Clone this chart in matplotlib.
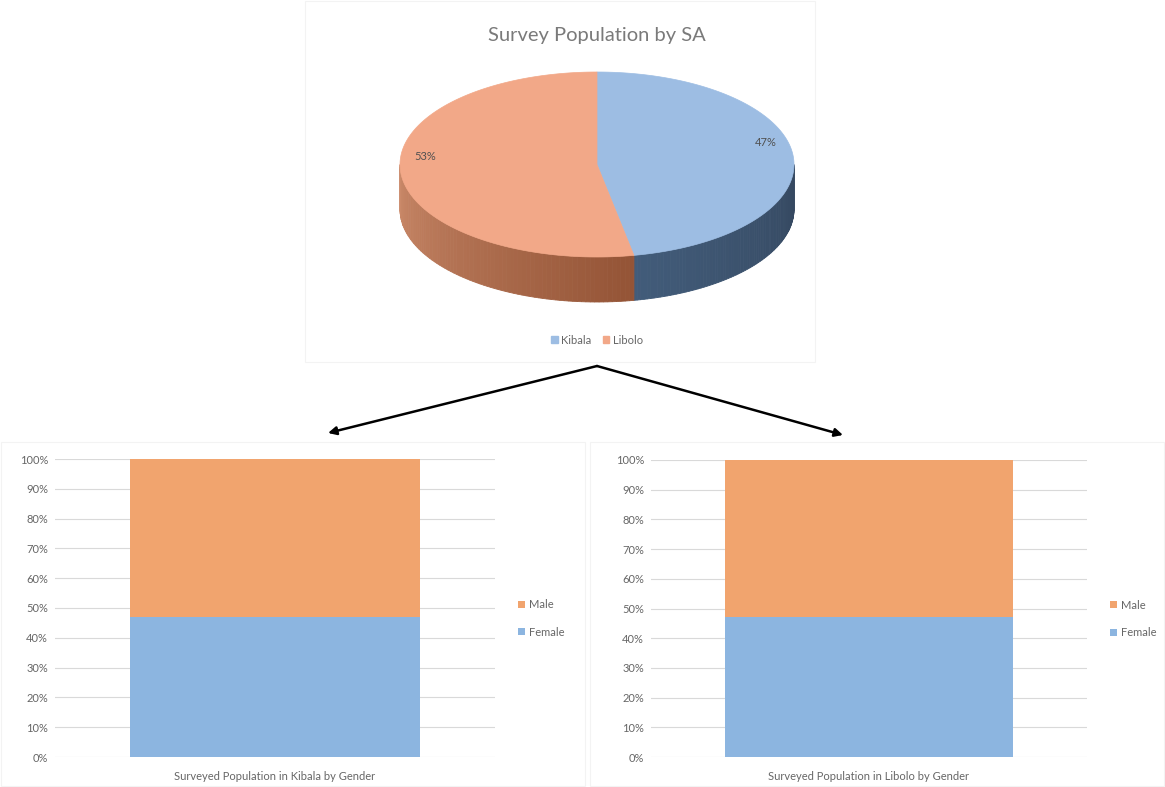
import numpy as np
import matplotlib
matplotlib.use('Agg')
import matplotlib.pyplot as plt
from matplotlib.patches import Polygon, Patch, Rectangle
from matplotlib.ticker import PercentFormatter
from matplotlib.colors import to_rgb

plt.rcParams['font.family'] = ['Lato', 'DejaVu Sans']

# data
regions = ['Kibala', 'Libolo']
region_share = [47, 53]
genders = ['Female', 'Male']
female_share = [0.47, 0.47]   # Kibala, Libolo
male_share = [0.53, 0.53]
bar_titles = ['Surveyed Population in Kibala by Gender',
              'Surveyed Population in Libolo by Gender']

top_colors = ['#9DBDE3', '#F2A888']
side_colors = [('#34475F', '#425C7A'), ('#945436', '#CB8A6A')]
bar_colors = {'Female': '#8CB5E0', 'Male': '#F1A46E'}
txt_gray = '#666666'

fig = plt.figure(figsize=(11.65, 7.87), dpi=100)

# background axes in pixel coordinates for the 3D pie, frames and arrows
bg = fig.add_axes([0, 0, 1, 1])
bg.set_xlim(0, 1165)
bg.set_ylim(787, 0)
bg.axis('off')

# panel frames (very faint)
for (x0, y0, w, h) in [(305, 1, 510, 361), (1, 442, 584, 344), (590, 442, 574, 344)]:
    bg.add_patch(Rectangle((x0, y0), w, h, fill=False, ec='#F3F3F3', lw=0.8))

bg.text(597, 35, 'Survey Population by SA', ha='center', va='center',
        fontsize=14.5, color='#7A7A7A')

# 3D pie
cx, cy, a, b, depth = 597, 164.5, 197, 92.5, 45


def pt(theta, dy=0):
    t = np.radians(theta)
    return cx + a * np.sin(t), cy - b * np.cos(t) + dy


fracs = np.array(region_share) / sum(region_share)
starts = np.concatenate([[0], np.cumsum(fracs)[:-1]]) * 360
ends = np.cumsum(fracs) * 360

# side walls (front half only: 90..270 deg clockwise from top)
for i in range(len(regions)):
    lo, hi = max(starts[i], 90), min(ends[i], 270)
    if hi <= lo:
        continue
    c_dark, c_light = np.array(to_rgb(side_colors[i][0])), np.array(to_rgb(side_colors[i][1]))
    th = np.linspace(lo, hi, 80)
    for k in range(len(th) - 1):
        if i == 0:
            f = (th[k] - 90) / (hi - 90 + 1e-9)
        else:
            f = (th[k] - lo) / (270 - lo)
        col = c_dark + (c_light - c_dark) * f
        p = [pt(th[k]), pt(th[k + 1]), pt(th[k + 1], depth), pt(th[k], depth)]
        bg.add_patch(Polygon(p, closed=True, fc=col, ec=col, lw=0.6))

# top surface
for i in range(len(regions)):
    th = np.linspace(starts[i], ends[i], 200)
    p = [(cx, cy)] + [pt(t) for t in th]
    bg.add_patch(Polygon(p, closed=True, fc=top_colors[i], ec=top_colors[i], lw=0.5))

bg.text(766, 143, f'{region_share[0]}%', ha='center', va='center', fontsize=8, color='#505050')
bg.text(425, 156, f'{region_share[1]}%', ha='center', va='center', fontsize=8, color='#505050')

bg.legend(handles=[Patch(color=top_colors[i], label=regions[i]) for i in range(2)],
          loc='center', bbox_to_anchor=(597, 340), bbox_transform=bg.transData,
          ncol=2, frameon=False, fontsize=8, labelcolor=txt_gray,
          handlelength=0.6, handleheight=0.6, handletextpad=0.3, columnspacing=1.0)

# arrows
for tip in [(328, 433), (843, 435)]:
    bg.annotate('', xy=tip, xytext=(597, 366),
                arrowprops=dict(arrowstyle='-|>', color='black', lw=1.8,
                                mutation_scale=12, shrinkA=0, shrinkB=0))

# stacked 100% bars
W, H = 1165, 787
boxes = [(55, 459, 440, 298), (651, 460, 436, 297)]
for j, (x0, y0, w, h) in enumerate(boxes):
    ax = fig.add_axes([x0 / W, 1 - (y0 + h) / H, w / W, h / H])
    ax.set_facecolor('none')
    f_bar = ax.bar([0], [female_share[j]], width=0.66, color=bar_colors['Female'],
                   label='Female', zorder=3)
    m_bar = ax.bar([0], [male_share[j]], bottom=[female_share[j]], width=0.66,
                   color=bar_colors['Male'], label='Male', zorder=3)
    ax.set_xlim(-0.5, 0.5)
    ax.set_ylim(0, 1)
    ax.set_yticks(np.arange(0, 1.01, 0.1))
    ax.yaxis.set_major_formatter(PercentFormatter(1.0, decimals=0))
    ax.set_xticks([0])
    ax.set_xticklabels([bar_titles[j]])
    ax.tick_params(length=0, labelsize=8, colors=txt_gray, pad=5)
    ax.tick_params(axis='x', pad=10)
    ax.grid(axis='y', color='#D9D9D9', lw=0.8, zorder=0)
    ax.set_axisbelow(True)
    for s in ax.spines.values():
        s.set_visible(False)
    ax.legend(handles=[m_bar, f_bar], loc='center left', bbox_to_anchor=(1.03, 0.465),
              frameon=False, fontsize=8, labelcolor=txt_gray,
              handlelength=0.6, handleheight=0.6, handletextpad=0.4, labelspacing=1.5)

fig.savefig('out.png', dpi=100)
